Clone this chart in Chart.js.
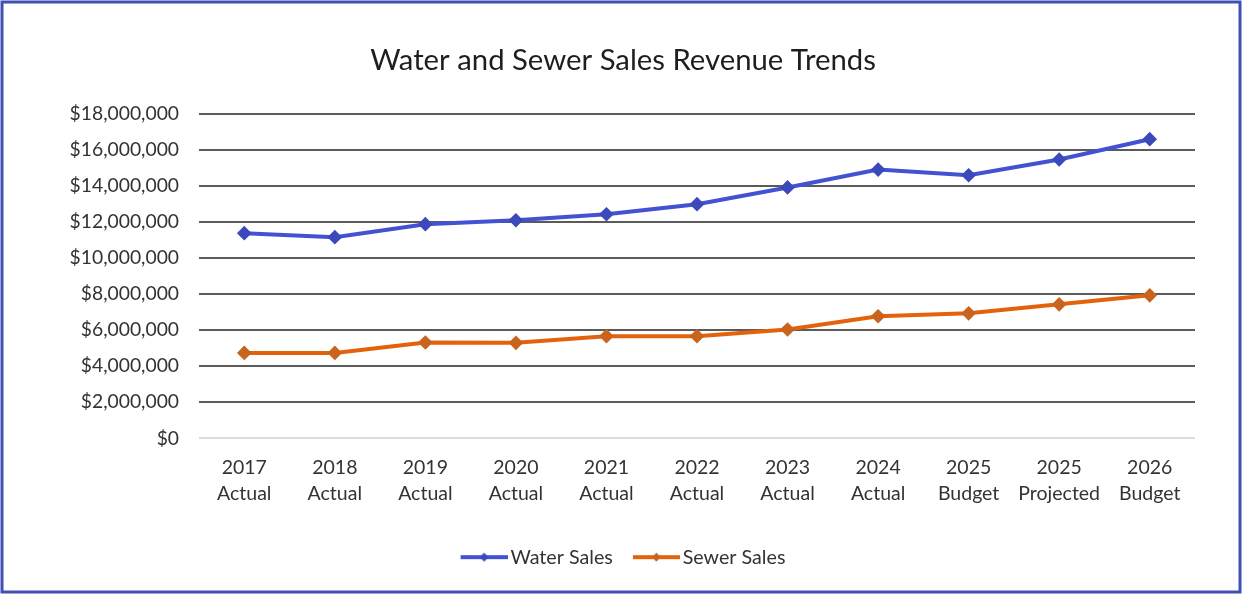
<!DOCTYPE html>
<html>
<head>
<meta charset="utf-8">
<title>Water and Sewer Sales Revenue Trends</title>
<script src="https://cdn.jsdelivr.net/npm/chart.js@4/dist/chart.umd.min.js"></script>
<style>
    html, body { margin: 0; padding: 0; background: #fff; }
    #wrap { position: absolute; left: 0; top: 0; width: 1246px; height: 594px; }
</style>
</head>
<body>
<div id="wrap"><canvas id="revenueChart" width="1246" height="594"></canvas></div>
<script>
// fiscal year + status, shown as two-line category labels
const years = ["2017", "2018", "2019", "2020", "2021", "2022", "2023", "2024", "2025", "2025", "2026"];
const stages = ["Actual", "Actual", "Actual", "Actual", "Actual", "Actual", "Actual", "Actual", "Budget", "Projected", "Budget"];

const waterSales = [11390000, 11170000, 11890000, 12110000, 12440000, 13000000, 13930000, 14920000, 14610000, 15480000, 16610000];
const sewerSales = [4740000, 4740000, 5320000, 5300000, 5670000, 5670000, 6040000, 6780000, 6940000, 7440000, 7940000];

const yTicks = [0, 2000000, 4000000, 6000000, 8000000, 10000000, 12000000, 14000000, 16000000, 18000000];

const FONT = "Lato, 'Open Sans', sans-serif";
const WATER = "#4352d2", WATER_PT = "#3c49bb";
const SEWER = "#e4620c", SEWER_PT = "#c9641e";

// "line with a marker" swatch for the legend; the visible stroke sits
// right of centre so it nearly touches the label text
function legendIcon(lineColor, pointColor) {
    const c = document.createElement("canvas");
    c.width = 54;
    c.height = 12;
    const g = c.getContext("2d");
    g.fillStyle = lineColor;
    g.fillRect(7, 4, 47, 4);
    g.fillStyle = pointColor;
    g.beginPath();
    g.moveTo(30.5, 1.5);
    g.lineTo(35, 6);
    g.lineTo(30.5, 10.5);
    g.lineTo(26, 6);
    g.closePath();
    g.fill();
    return c;
}
const icons = [legendIcon(WATER, WATER_PT), legendIcon(SEWER, SEWER_PT)];

// white page with the blue frame around it
const frame = {
    id: "frame",
    beforeDraw(chart) {
        const c = chart.ctx;
        c.save();
        c.fillStyle = "#ffffff";
        c.fillRect(0, 0, chart.width, chart.height);
        c.restore();
    },
    afterDraw(chart) {
        const c = chart.ctx;
        c.save();
        c.strokeStyle = "#4150b4";
        c.lineWidth = 3;
        c.strokeRect(2, 2, 1238, 590);
        c.restore();
    }
};

const ctx = document.getElementById("revenueChart").getContext("2d");
new Chart(ctx, {
    type: "line",
    data: {
        labels: years.map((y, i) => [y, stages[i]]),
        datasets: [{
            label: "Water Sales",
            data: waterSales,
            borderColor: WATER,
            backgroundColor: WATER,
            borderWidth: 4,
            pointStyle: "rectRot",
            pointRadius: 4.5,
            pointBackgroundColor: WATER_PT,
            pointBorderColor: WATER_PT,
            tension: 0
        }, {
            label: "Sewer Sales",
            data: sewerSales,
            borderColor: SEWER,
            backgroundColor: SEWER,
            borderWidth: 4,
            pointStyle: "rectRot",
            pointRadius: 4.5,
            pointBackgroundColor: SEWER_PT,
            pointBorderColor: SEWER_PT,
            tension: 0
        }]
    },
    options: {
        responsive: false,
        animation: false,
        layout: { padding: { left: 51, right: 51, top: 0, bottom: 17 } },
        plugins: {
            title: {
                display: true,
                text: "Water and Sewer Sales Revenue Trends",
                color: "#1e1e1e",
                font: { family: FONT, size: 29.3, weight: "normal" },
                padding: { top: 43, bottom: 36 }
            },
            legend: {
                position: "bottom",
                labels: {
                    color: "#333",
                    font: { family: FONT, size: 19.7 },
                    usePointStyle: true,
                    pointStyleWidth: 40,
                    padding: 20,
                    generateLabels: chart => {
                        const items = Chart.defaults.plugins.legend.labels.generateLabels(chart);
                        items.forEach((it, i) => { it.pointStyle = icons[i]; });
                        return items;
                    }
                }
            },
            tooltip: { enabled: false }
        },
        scales: {
            x: {
                offset: true,
                afterFit: scale => { scale.height = 89; },
                grid: { display: false },
                border: { display: false },
                ticks: {
                    color: "#333",
                    font: { family: FONT, size: 19.5, lineHeight: 1.333 },
                    padding: 8,
                    maxRotation: 0
                }
            },
            y: {
                min: 0,
                max: 18000000,
                afterFit: scale => { scale.width = 148; },
                afterBuildTicks: scale => { scale.ticks = yTicks.map(v => ({ value: v })); },
                border: { display: false },
                grid: {
                    drawTicks: false,
                    lineWidth: 2,
                    color: c => c.tick && c.tick.value === 0 ? "#dcdcdc" : "#5a5a5a"
                },
                ticks: {
                    color: "#333",
                    padding: 20,
                    font: { family: FONT, size: 19.3 },
                    callback: v => "$" + v.toLocaleString("en-US")
                }
            }
        }
    },
    plugins: [frame]
});
</script>
</body>
</html>
